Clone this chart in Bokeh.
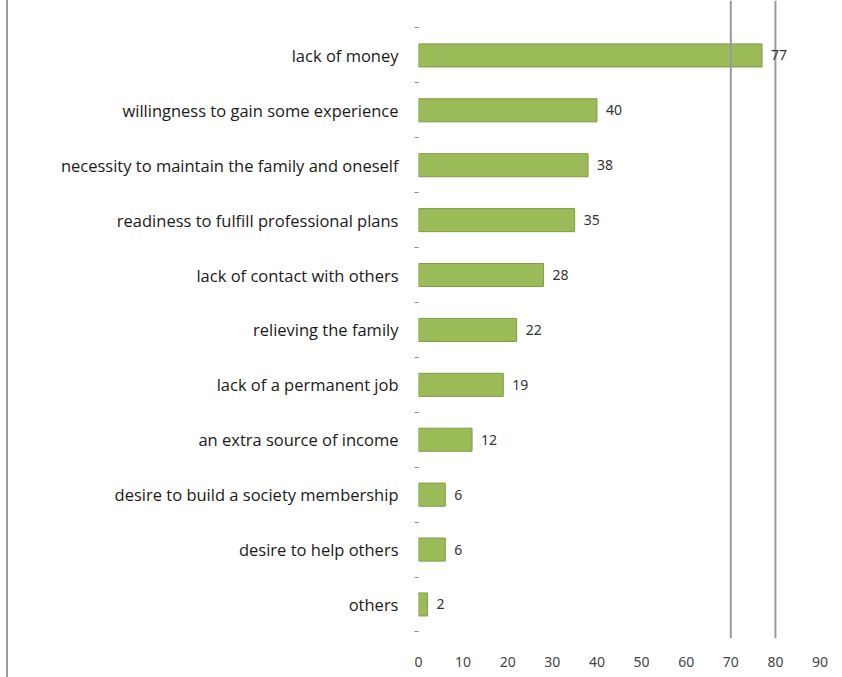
from bokeh.plotting import figure
from bokeh.models import ColumnDataSource, Range1d, FixedTicker, LabelSet, Span, Div
from bokeh.layouts import row
from bokeh.core.properties import value
from bokeh.embed import file_html
from bokeh.resources import INLINE

categories = [
    "lack of money",
    "willingness to gain some experience",
    "necessity to maintain the family and oneself",
    "readiness to fulfill professional plans",
    "lack of contact with others",
    "relieving the family",
    "lack of a permanent job",
    "an extra source of income",
    "desire to build a society membership",
    "desire to help others",
    "others",
]
values = [77, 40, 38, 35, 28, 22, 19, 12, 6, 6, 2]
value_labels = ["77", "40", "38", "35", "28", "22", "19", "12", "6", "6", "2"]
x_ticks = [0, 10, 20, 30, 40, 50, 60, 70, 80, 90]
ref_lines = [70, 80]

n = len(categories)
ypos = [n - 1 - i for i in range(n)]
src = ColumnDataSource(dict(y=ypos, v=values, lab=value_labels, cat=categories))

p = figure(width=834, height=677, output_backend="svg", toolbar_location=None,
           x_range=Range1d(0, 91), y_range=Range1d(-0.62, n),
           min_border_left=410, min_border_right=18, min_border_top=0, min_border_bottom=39)
p.outline_line_color = None
p.grid.grid_line_color = None

p.hbar(y="y", right="v", left=0, height=0.42, source=src,
       fill_color="#9BBB59", line_color="#7F9A48", line_width=1)

for r in ref_lines:
    p.add_layout(Span(location=r, dimension="height", line_color="#9a9a9a", line_width=2))

p.add_layout(LabelSet(x="v", y="y", text="lab", source=src, x_offset=9,
                      text_baseline="middle", text_font_size="14px",
                      text_color="#333333", text_font=value("Noto Sans")))

yax = p.yaxis[0]
yax.ticker = FixedTicker(ticks=ypos, minor_ticks=[i - 0.5 for i in range(n + 1)])
yax.major_label_overrides = {y: c for y, c in zip(ypos, categories)}
yax.axis_line_color = None
yax.major_tick_line_color = None
yax.minor_tick_line_color = "#888888"
yax.minor_tick_out = 4
yax.minor_tick_in = 0
yax.major_label_standoff = 14
yax.major_label_text_font = "Open Sans"
yax.major_label_text_font_size = "16.5px"
yax.major_label_text_color = "#1a1a1a"

xax = p.xaxis[0]
xax.ticker = FixedTicker(ticks=x_ticks)
xax.axis_line_color = None
xax.major_tick_line_color = None
xax.minor_tick_line_color = None
xax.major_label_standoff = 12
xax.major_label_text_font = "Noto Sans"
xax.major_label_text_font_size = "14px"
xax.major_label_text_color = "#444444"

# left border line of the chart block
edge = Div(width=8, height=677, text="", margin=0,
           styles={"border-right": "2px solid #9a9a9a", "box-sizing": "border-box"})

layout = row(edge, p, spacing=0)
open("out.html", "w").write(file_html(layout, INLINE))
